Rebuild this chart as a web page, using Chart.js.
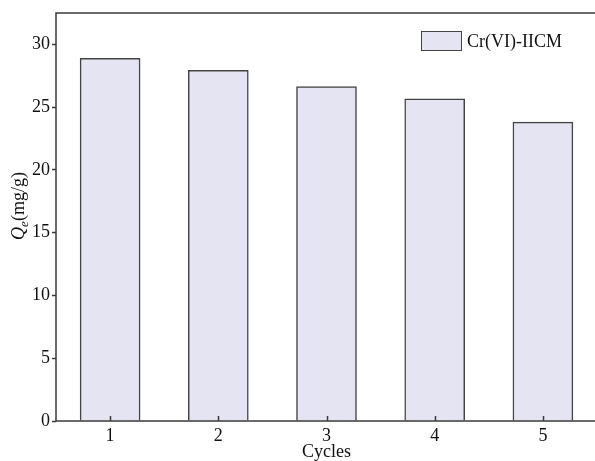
<!DOCTYPE html>
<html>
<head>
<meta charset="utf-8">
<script src="https://cdn.jsdelivr.net/npm/chart.js@4.4.0/dist/chart.umd.min.js"></script>
<style>
    html, body { margin: 0; padding: 0; background: #fff; overflow: hidden; }
    #wrap { width: 600px; height: 461px; }
</style>
</head>
<body>
<div id="wrap"><canvas id="cyclesChart" width="600" height="461"></canvas></div>
<script>
// datos
const cycles = ['1', '2', '3', '4', '5'];
const qeValues = [28.88, 27.93, 26.63, 25.67, 23.81];
const seriesName = 'Cr(VI)-IICM';

const AXIS_COLOR = '#3a3a3a';
const BAR_FILL = '#e4e4f2';
const FONT = '"Liberation Serif", "DejaVu Serif", serif';

// marco, ticks internos del eje x, leyenda y titulo del eje y
const framePlugin = {
    id: 'framePlugin',
    afterDraw(chart) {
        const ctx = chart.ctx;
        const area = chart.chartArea;
        const xScale = chart.scales.x;

        ctx.save();
        ctx.strokeStyle = AXIS_COLOR;
        ctx.lineWidth = 1.5;
        ctx.strokeRect(area.left, area.top, area.right - area.left, area.bottom - area.top);

        // ticks hacia adentro en el eje x
        cycles.forEach((c, i) => {
            const px = Math.round(xScale.getPixelForValue(i)) + 0.5;
            ctx.beginPath();
            ctx.moveTo(px, area.bottom);
            ctx.lineTo(px, area.bottom - 5);
            ctx.stroke();
        });

        // leyenda
        const ds = chart.data.datasets[0];
        ctx.fillStyle = ds.backgroundColor;
        ctx.fillRect(421, 31, 41, 20);
        ctx.lineWidth = 1;
        ctx.strokeStyle = ds.borderColor;
        ctx.strokeRect(421.5, 31.5, 40, 19);
        ctx.fillStyle = '#111';
        ctx.font = '18px ' + FONT;
        ctx.textBaseline = 'middle';
        ctx.textAlign = 'left';
        ctx.fillText(ds.label, 467, 42);

        // titulo del eje y: Qe(mg/g)
        ctx.translate(18, 206);
        ctx.rotate(-Math.PI / 2);
        const partQ = 'Q';
        const partE = 'e';
        const partU = '(mg/g)';
        ctx.font = 'italic 18px ' + FONT;
        const wQ = ctx.measureText(partQ).width;
        ctx.font = 'italic 13px ' + FONT;
        const wE = ctx.measureText(partE).width;
        ctx.font = '18px ' + FONT;
        const wU = ctx.measureText(partU).width;
        let x = -(wQ + wE + wU) / 2;
        ctx.textBaseline = 'alphabetic';
        ctx.font = 'italic 18px ' + FONT;
        ctx.fillText(partQ, x, 6);
        x += wQ;
        ctx.font = 'italic 13px ' + FONT;
        ctx.fillText(partE, x, 10);
        x += wE;
        ctx.font = '18px ' + FONT;
        ctx.fillText(partU, x, 6);
        ctx.restore();
    }
};

const ctx = document.getElementById('cyclesChart').getContext('2d');
const cyclesChart = new Chart(ctx, {
    type: 'bar',
    data: {
        labels: cycles,
        datasets: [{
            label: seriesName,
            data: qeValues,
            backgroundColor: BAR_FILL,
            borderColor: '#444',
            borderWidth: 1.5,
            barThickness: 60
        }]
    },
    options: {
        responsive: false,
        animation: false,
        layout: { padding: { top: 13, right: 3, left: 0, bottom: 0 } },
        plugins: {
            legend: { display: false },
            tooltip: { enabled: false }
        },
        scales: {
            x: {
                offset: true,
                grid: { display: false },
                border: { display: false },
                ticks: {
                    color: '#111',
                    font: { family: FONT, size: 18 },
                    padding: -4,
                    maxRotation: 0
                },
                title: {
                    display: true,
                    text: 'Cycles',
                    color: '#111',
                    font: { family: FONT, size: 18 },
                    padding: { top: 0, bottom: -2 }
                },
                afterFit(scale) { scale.height = 40; }
            },
            y: {
                min: 0,
                max: 32.5,
                grid: {
                    drawOnChartArea: false,
                    drawTicks: true,
                    tickLength: 4,
                    tickWidth: 1.5,
                    color: AXIS_COLOR
                },
                border: { display: false },
                ticks: {
                    stepSize: 5,
                    includeBounds: false,
                    color: '#111',
                    font: { family: FONT, size: 18 },
                    padding: 2
                },
                afterFit(scale) { scale.width = 56; }
            }
        }
    },
    plugins: [framePlugin]
});
</script>
</body>
</html>
